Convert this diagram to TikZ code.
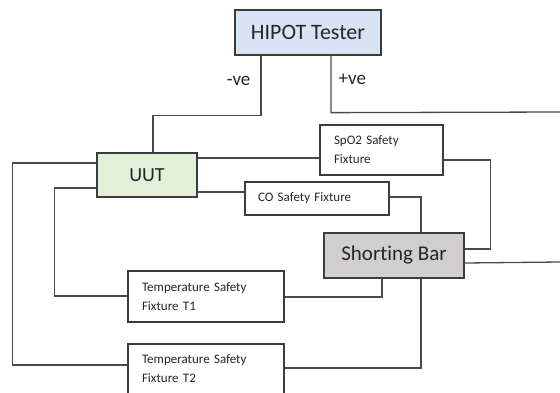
\documentclass[tikz,border=0pt]{standalone}
\usepackage{fontspec}
\setmainfont{Carlito}[Ligatures={NoCommon}]
\definecolor{txt}{HTML}{262626}
\definecolor{wire}{HTML}{4A4A4A}
\definecolor{edge}{HTML}{3C3C3C}
\definecolor{hipotfill}{HTML}{DAE3F3}
\definecolor{uutfill}{HTML}{E2F0D9}
\definecolor{sbfill}{HTML}{D0CECE}
\tikzset{
  box/.style={draw=edge, line width=1.3pt, inner sep=0pt, text=txt, anchor=center},
  bigbox/.style={box, font=\fontsize{21}{24}\selectfont},
  fixbox/.style={box, fill=white, align=left, inner xsep=14pt, font=\fontsize{13}{19}\selectfont},
  wirel/.style={draw=wire, line width=1.3pt},
  lbl/.style={text=txt, font=\fontsize{19}{22}\selectfont, inner sep=0pt}
}
\begin{document}
\begin{tikzpicture}[x=1pt,y=-1pt]
\useasboundingbox (0,0) rectangle (560,392);
\fill[white] (0,0) rectangle (560,392);
% nodes
\node[bigbox, fill=hipotfill, minimum width=146pt, minimum height=45pt, font=\fontsize{22}{24}\selectfont] (hipot) at (308,32.5) {HIPOT Tester};
\node[bigbox, fill=uutfill, minimum width=100pt, minimum height=44pt, font=\fontsize{20}{24}\selectfont] (uut) at (147,175) {UUT};
\node[fixbox, text width=95pt, minimum height=50pt] (spo2) at (381.5,150) {SpO2 Safety\\Fixture};
\node[fixbox, inner xsep=13pt, text width=118pt, minimum height=33pt] (co) at (317,198.5) {CO Safety Fixture};
\node[bigbox, fill=sbfill, minimum width=140pt, minimum height=45pt] (sb) at (394,255.5) {Shorting Bar};
\node[fixbox, text width=128pt, minimum height=51pt] (t1) at (206,296.5) {Temperature Safety\\Fixture T1};
\node[fixbox, text width=128pt, minimum height=50pt] (t2) at (206,369) {Temperature Safety\\Fixture T2};
\coordinate (pplus) at (560,112);
\coordinate (pright) at (560,262);
% connectors
\draw[wirel] (hipot.south -| 261,0) -- node[lbl, pos=0.42, left=10pt] {-ve} ++(0,60) -| (uut.north -| 153,0);
\draw[wirel] (hipot.south -| 331,0) -- node[lbl, pos=0.42, right=7pt] {+ve} ++(0,57) -- (pplus);
\draw[wirel] (uut.east |- 0,158) -- (spo2.west |- 0,158);
\draw[wirel] (spo2.east |- 0,160) -- ++(47,0) |- (sb.east |- 0,249);
\draw[wirel] (uut.east |- 0,192) -- (co.west |- 0,192);
\draw[wirel] (co.east |- 0,197) -| (sb.north -| 421,0);
\draw[wirel] (uut.west |- 0,163) -- ++(-84,0) |- (t2.west |- 0,365);
\draw[wirel] (uut.west |- 0,188) -- ++(-42,0) |- (t1.west |- 0,296);
\draw[wirel] (t1.east |- 0,297) -| (sb.south -| 382,0);
\draw[wirel] (t2.east |- 0,368) -| (sb.south -| 421,0);
\draw[wirel] (sb.east |- 0,263) -- (pright);
\end{tikzpicture}
\end{document}
